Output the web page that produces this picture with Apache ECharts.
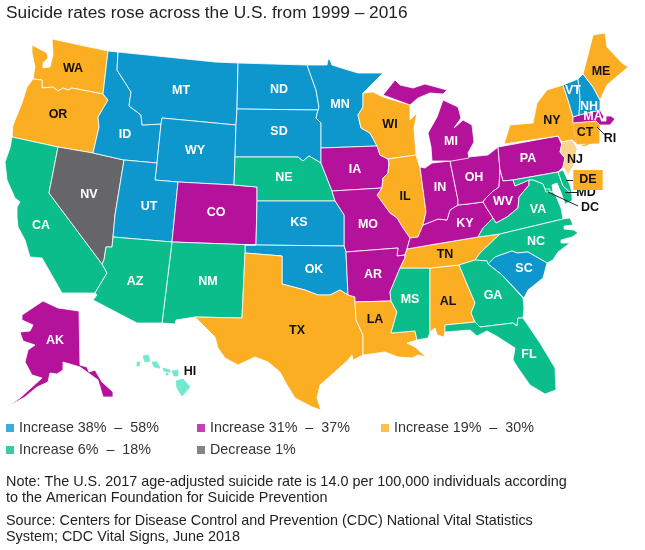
<!DOCTYPE html>
<html>
<head>
<meta charset="utf-8">
<script src="https://cdn.jsdelivr.net/npm/echarts@6/dist/echarts.min.js"></script>
<style>
  html, body { margin: 0; padding: 0; background: #fff; }
  #chart { width: 645px; height: 550px; }
</style>
</head>
<body>
<div id="chart"></div>
<script>
// groups
var legendNames = ['Increase 38%  –  58%', 'Increase 31%  –  37%', 'Increase 19%  –  30%', 'Increase 6%  –  18%', 'Decrease 1%']
var increase38to58 = ['MT', 'ID', 'WY', 'UT', 'ND', 'SD', 'MN', 'KS', 'OK', 'SC', 'VT', 'NH']
var increase31to37 = ['AK', 'CO', 'IA', 'MO', 'AR', 'MI', 'IN', 'OH', 'KY', 'WV', 'PA', 'MA']
var increase19to30 = ['WA', 'OR', 'TX', 'LA', 'WI', 'IL', 'TN', 'AL', 'NY', 'ME', 'CT', 'NJ', 'RI']
var increase6to18 = ['CA', 'AZ', 'NM', 'NE', 'MS', 'GA', 'FL', 'NC', 'VA', 'MD', 'DC', 'DE', 'HI']
var decrease1 = ['NV']
var outsideLabels = ['RI', 'MD', 'DC', 'HI']

// state outlines, in its own 645x550 map units
var stateShapes = {
  WA: [[[32,45],[47,53],[48,58],[43,63],[43,68],[50,67],[53,55],[52,39],[108,51],[103,94],[72,88],[68,90],[63,88],[58,91],[53,87],[42,88],[42,80],[33,79],[35,67],[32,53]]],
  OR: [[[33,79],[42,80],[42,88],[53,87],[58,91],[63,88],[68,90],[72,88],[103,94],[108,100],[98,117],[99,127],[93,153],[58,147],[12,137],[13,125],[22,103],[27,87]]],
  CA: [[[12,137],[58,147],[49,193],[102,264],[107,273],[95,293],[62,293],[50,272],[42,258],[30,257],[25,240],[18,227],[17,217],[17,207],[20,202],[15,198],[7,180],[5,162],[10,148]]],
  NV: [[[58,147],[93,153],[124,160],[115,215],[113,237],[112,247],[106,247],[104,260],[102,264],[49,193]]],
  ID: [[[108,51],[118,52],[117,70],[131,92],[129,106],[141,115],[142,125],[161,124],[157,163],[124,160],[93,153],[99,127],[98,117],[108,100],[103,94]]],
  MT: [[[118,52],[215,62],[238,63],[237,109],[236,125],[215,123],[162,118],[161,124],[142,125],[141,115],[129,106],[131,92],[117,70]]],
  WY: [[[162,118],[215,123],[236,125],[235,157],[234,185],[178,182],[155,180],[157,163],[161,124]]],
  UT: [[[124,160],[157,163],[155,180],[178,182],[172,242],[113,237],[115,215]]],
  CO: [[[178,182],[234,185],[257,187],[257,201],[256,245],[172,242]]],
  ND: [[[238,63],[307,65],[316,90],[319,107],[318,110],[237,109]]],
  SD: [[[237,109],[318,110],[316,118],[321,123],[321,148],[321,163],[309,156],[303,161],[298,157],[235,157],[236,125]]],
  NE: [[[235,157],[298,157],[303,161],[309,156],[321,163],[332,191],[335,201],[257,201],[257,187],[234,185]]],
  MN: [[[307,65],[327,65],[328,59],[330,60],[332,65],[348,70],[358,73],[383,73],[363,93],[363,107],[358,115],[361,128],[370,133],[377,146],[321,148],[321,123],[316,118],[318,110],[319,107],[316,90]]],
  IA: [[[321,148],[377,146],[380,155],[388,159],[389,163],[388,173],[383,178],[382,188],[332,191],[321,163]]],
  WI: [[[363,93],[373,92],[383,97],[410,105],[410,120],[417,113],[414,128],[416,155],[388,159],[380,155],[377,146],[370,133],[361,128],[358,115],[363,107]]],
  IL: [[[388,159],[416,155],[419,165],[420,167],[426,212],[423,225],[418,237],[410,238],[403,228],[397,218],[390,213],[377,195],[382,188],[383,178],[388,173],[389,163]]],
  MO: [[[332,191],[382,188],[377,195],[390,213],[397,218],[403,228],[410,238],[407,249],[405,255],[397,256],[398,248],[346,252],[344,246],[344,215],[335,201]]],
  KS: [[[257,201],[335,201],[344,215],[344,246],[256,245]]],
  OK: [[[245,245],[256,245],[344,246],[346,252],[348,295],[340,290],[330,295],[318,295],[305,290],[282,284],[282,256],[245,253]]],
  NM: [[[172,242],[256,245],[245,245],[245,253],[242,318],[195,317],[176,320],[175,324],[162,323]]],
  AZ: [[[113,237],[172,242],[162,323],[137,323],[93,300],[97,295],[95,293],[107,273],[102,264],[104,260],[106,247],[112,247]]],
  TX: [[[245,253],[282,256],[282,284],[305,290],[318,295],[330,295],[340,290],[348,295],[355,297],[355,302],[356,320],[363,335],[363,355],[353,360],[352,355],[348,360],[328,378],[320,385],[317,398],[321,410],[312,407],[295,398],[287,385],[280,372],[268,362],[255,357],[238,365],[225,358],[218,348],[215,337],[195,317],[242,318]]],
  AR: [[[346,252],[398,248],[397,256],[405,255],[405,258],[400,268],[390,292],[391,301],[355,302],[355,297],[348,295]]],
  LA: [[[355,302],[391,301],[397,312],[391,333],[415,331],[417,340],[407,343],[415,347],[426,357],[418,355],[412,358],[398,357],[385,352],[363,355],[363,335],[356,320]]],
  MS: [[[400,268],[430,268],[430,332],[428,338],[417,340],[415,331],[391,333],[397,312],[391,301],[390,292]]],
  AL: [[[430,268],[459,265],[475,303],[471,313],[475,322],[445,325],[445,332],[444,337],[437,335],[435,328],[430,332]]],
  TN: [[[400,268],[405,258],[405,255],[407,249],[430,245],[478,237],[500,234],[480,253],[475,260],[459,265],[430,268]]],
  KY: [[[418,237],[423,225],[438,219],[447,220],[450,210],[458,205],[468,204],[483,202],[486,207],[493,218],[483,228],[478,237],[430,245],[407,249],[410,238]]],
  IN: [[[420,167],[425,168],[432,163],[450,161],[458,200],[458,205],[450,210],[447,220],[438,219],[423,225],[426,212]]],
  OH: [[[450,161],[468,157],[488,155],[498,147],[500,170],[499,187],[492,192],[486,198],[483,202],[468,204],[458,205],[458,200]]],
  MI: [[[383,95],[395,80],[400,85],[413,88],[425,84],[447,90],[443,94],[430,93],[418,98],[410,105]],
       [[428,133],[437,117],[443,100],[458,107],[461,118],[454,128],[463,120],[472,125],[474,142],[468,153],[469,158],[452,161],[432,161],[431,147]]],
  PA: [[[498,147],[558,136],[562,145],[560,152],[565,158],[563,167],[558,172],[513,180],[503,181],[500,170]]],
  WV: [[[500,170],[503,181],[513,180],[515,186],[529,180],[529,185],[519,197],[518,208],[507,217],[496,223],[493,218],[486,207],[483,202],[486,198],[492,192],[499,187]]],
  MD: [[[513,180],[558,172],[563,186],[572,194],[572,201],[565,204],[562,195],[557,183],[552,185],[553,192],[546,192],[543,184],[533,180],[529,180],[515,186]]],
  DE: [[[558,172],[563,170],[570,185],[572,194],[563,186]]],
  DC: [[[545,189],[550,189],[550,194],[545,194]]],
  VA: [[[478,237],[483,228],[493,218],[496,223],[507,217],[518,208],[519,197],[529,185],[529,180],[533,180],[543,184],[546,192],[553,192],[556,196],[561,208],[563,219],[500,234]]],
  NC: [[[500,234],[563,219],[570,218],[573,225],[564,226],[564,229],[574,230],[578,233],[572,237],[561,240],[561,243],[570,243],[558,252],[553,260],[547,263],[528,252],[517,253],[512,251],[495,257],[488,264],[487,261],[475,260],[480,253]]],
  SC: [[[488,264],[495,257],[512,251],[517,253],[528,252],[547,263],[543,278],[528,290],[524,298],[523,298],[502,275]]],
  GA: [[[459,265],[475,260],[487,261],[488,264],[502,275],[523,298],[524,308],[523,318],[518,318],[517,326],[513,323],[480,327],[475,322],[471,313],[475,303]]],
  FL: [[[445,325],[475,322],[480,327],[513,323],[517,326],[518,318],[523,318],[540,343],[555,368],[556,390],[545,394],[530,385],[518,368],[513,360],[515,348],[498,337],[487,331],[477,336],[470,330],[445,332]]],
  NY: [[[504,144],[510,125],[533,123],[537,103],[547,90],[563,85],[568,100],[573,117],[573,123],[577,144],[572,140],[562,142],[558,136]],
       [[580,147],[582,145],[593,142],[587,146]]],
  NJ: [[[562,142],[572,140],[577,148],[575,163],[568,175],[563,167],[565,158],[560,152]]],
  CT: [[[573,123],[596,121],[595,129],[599,128],[599,143],[577,144]]],
  RI: [[[596,121],[600,125],[599,128],[595,129]]],
  MA: [[[573,117],[579,115],[600,110],[604,117],[601,121],[606,121],[606,116],[611,116],[615,119],[610,125],[600,125],[596,121],[573,123]]],
  VT: [[[563,85],[578,79],[580,97],[579,115],[573,117],[568,100]]],
  NH: [[[578,79],[583,74],[593,87],[600,100],[600,110],[579,115],[580,97]]],
  ME: [[[593,35],[605,33],[607,47],[622,63],[628,67],[615,78],[607,85],[600,100],[593,87],[583,74],[588,55]]],
  AK: [[[43,301],[58,308],[79,311],[80,365],[87,367],[89,372],[95,370],[102,382],[113,392],[113,397],[103,397],[98,380],[80,367],[63,362],[63,370],[57,374],[50,373],[48,382],[37,387],[25,397],[7,407],[20,398],[42,378],[32,375],[25,362],[28,350],[35,345],[23,341],[20,332],[30,331],[33,325],[22,320],[22,315]]],
  HI: [[[176,381],[183,379],[190,387],[182,396],[177,388]],
       [[172,371],[178,370],[178,376],[174,376]],
       [[163,368],[170,370],[170,372],[164,371]],
       [[152,362],[157,362],[160,368],[154,367]],
       [[143,356],[148,355],[150,361],[145,362]],
       [[137,362],[140,362],[139,366],[137,366]],
       [[166,373],[168,373],[168,375],[166,375]]]
}

var labelPoints = {
  WA: [73,69], OR: [58,115], CA: [41,226], NV: [89,195], ID: [125,135], MT: [181,91], WY: [195,151], UT: [149,207],
  AZ: [135,282], CO: [216,213], NM: [208,282], ND: [279,90], SD: [279,132], NE: [284,178], KS: [299,223], OK: [314,270],
  TX: [297,331], MN: [340,105], IA: [355,170], MO: [368,225], AR: [373,275], LA: [375,320], WI: [390,125], IL: [405,197],
  MI: [451,142], IN: [440,188], OH: [474,178], KY: [465,224], TN: [445,255], MS: [410,300], AL: [448,302], GA: [493,296],
  FL: [529,355], SC: [524,269], NC: [536,242], VA: [538,210], WV: [503,202], PA: [528,159], NY: [552,121], ME: [601,72],
  VT: [573,91], NH: [589,107], MA: [593,117], CT: [585,133], RI: [610,139], NJ: [575,160], DE: [588,180], MD: [586,193],
  DC: [590,208], AK: [55,341], HI: [190,372]
}

var leaderLines = [
  [[597,127],[605,135]],
  [[566,180],[573,180]],
  [[565,192],[578,192]],
  [[548,192],[578,206]]
]

var titleText = 'Suicide rates rose across the U.S. from 1999 – 2016'
var noteText = 'Note: The U.S. 2017 age-adjusted suicide rate is 14.0 per 100,000 individuals according\nto the American Foundation for Suicide Prevention'
var sourceText = 'Source: Centers for Disease Control and Prevention (CDC) National Vital Statistics\nSystem; CDC Vital Signs, June 2018'

var groups = [increase38to58, increase31to37, increase19to30, increase6to18, decrease1]
var groupColors = ['#0d97cd', '#b5129b', '#fbae21', '#0bbd8a', '#66666a']
var fontName = '"Liberation Sans", Arial, sans-serif'

var features = Object.keys(stateShapes).map(function (code) {
  return {
    type: 'Feature',
    properties: { name: code, cp: labelPoints[code] },
    geometry: {
      type: 'MultiPolygon',
      coordinates: stateShapes[code].map(function (ring) {
        return [ring.concat([ring[0]])]
      })
    }
  }
})
echarts.registerMap('usStates', { type: 'FeatureCollection', features: features })

var regions = []
groups.forEach(function (group, i) {
  group.forEach(function (code) {
    var dark = i == 2 || outsideLabels.indexOf(code) >= 0
    var region = {
      name: code,
      itemStyle: { areaColor: groupColors[i] },
      label: { color: dark ? '#111' : '#fff' }
    }
    regions.push(region)
  })
})

function findRegion(code) {
  return regions.filter(function (r) { return r.name == code })[0]
}
// a few regions are drawn differently from their group in the picture
findRegion('NJ').itemStyle.areaColor = '#fbd48e'
findRegion('HI').itemStyle.areaColor = '#74e8cd'
findRegion('HI').itemStyle.borderColor = '#74e8cd'
findRegion('CT').itemStyle.borderColor = '#fbae21'
findRegion('RI').itemStyle.borderColor = '#fbae21'
findRegion('DE').label = { color: '#111', backgroundColor: '#fbae21', padding: [4, 6, 3, 6] }

var series = [{
  type: 'lines',
  coordinateSystem: 'geo',
  silent: true,
  z: 5,
  lineStyle: { color: '#222', width: 1, opacity: 1, curveness: 0 },
  data: leaderLines.map(function (line) { return { coords: line } })
}]
legendNames.forEach(function (name, i) {
  series.push({
    type: 'scatter',
    coordinateSystem: 'geo',
    name: name,
    itemStyle: { color: groupColors[i] },
    data: []
  })
})

function legendColumn(names, left) {
  return {
    data: names,
    orient: 'vertical',
    left: left,
    top: 421,
    padding: 0,
    itemGap: 8,
    itemWidth: 8,
    itemHeight: 8,
    icon: 'rect',
    selectedMode: false,
    textStyle: { fontFamily: fontName, fontSize: 14.3, color: '#333' }
  }
}

var option = {
  animation: false,
  backgroundColor: '#fff',
  title: [
    { text: titleText, left: 6, top: 5, padding: 0, textStyle: { fontFamily: fontName, fontSize: 17.3, fontWeight: 'normal', color: '#222' } },
    { text: noteText, left: 6, top: 474, padding: 0, textStyle: { fontFamily: fontName, fontSize: 14.4, lineHeight: 16, fontWeight: 'normal', color: '#222' } },
    { text: sourceText, left: 6, top: 513, padding: 0, textStyle: { fontFamily: fontName, fontSize: 14.4, lineHeight: 16, fontWeight: 'normal', color: '#222' } }
  ],
  legend: [
    legendColumn([legendNames[0], legendNames[3]], 6),
    legendColumn([legendNames[1], legendNames[4]], 197),
    legendColumn([legendNames[2]], 381)
  ],
  geo: {
    map: 'usStates',
    projection: {
      project: function (p) { return p },
      unproject: function (p) { return p }
    },
    boundingCoords: [[0, 0], [645, 550]],
    left: 0,
    top: 0,
    width: 645,
    height: 550,
    roam: false,
    silent: true,
    label: { show: true, fontFamily: fontName, fontSize: 12.5, fontWeight: 'bold' },
    itemStyle: { borderColor: '#fff', borderWidth: 0.8 },
    regions: regions
  },
  series: series
}

var chart = echarts.init(document.getElementById('chart'))
chart.setOption(option)
</script>
</body>
</html>
